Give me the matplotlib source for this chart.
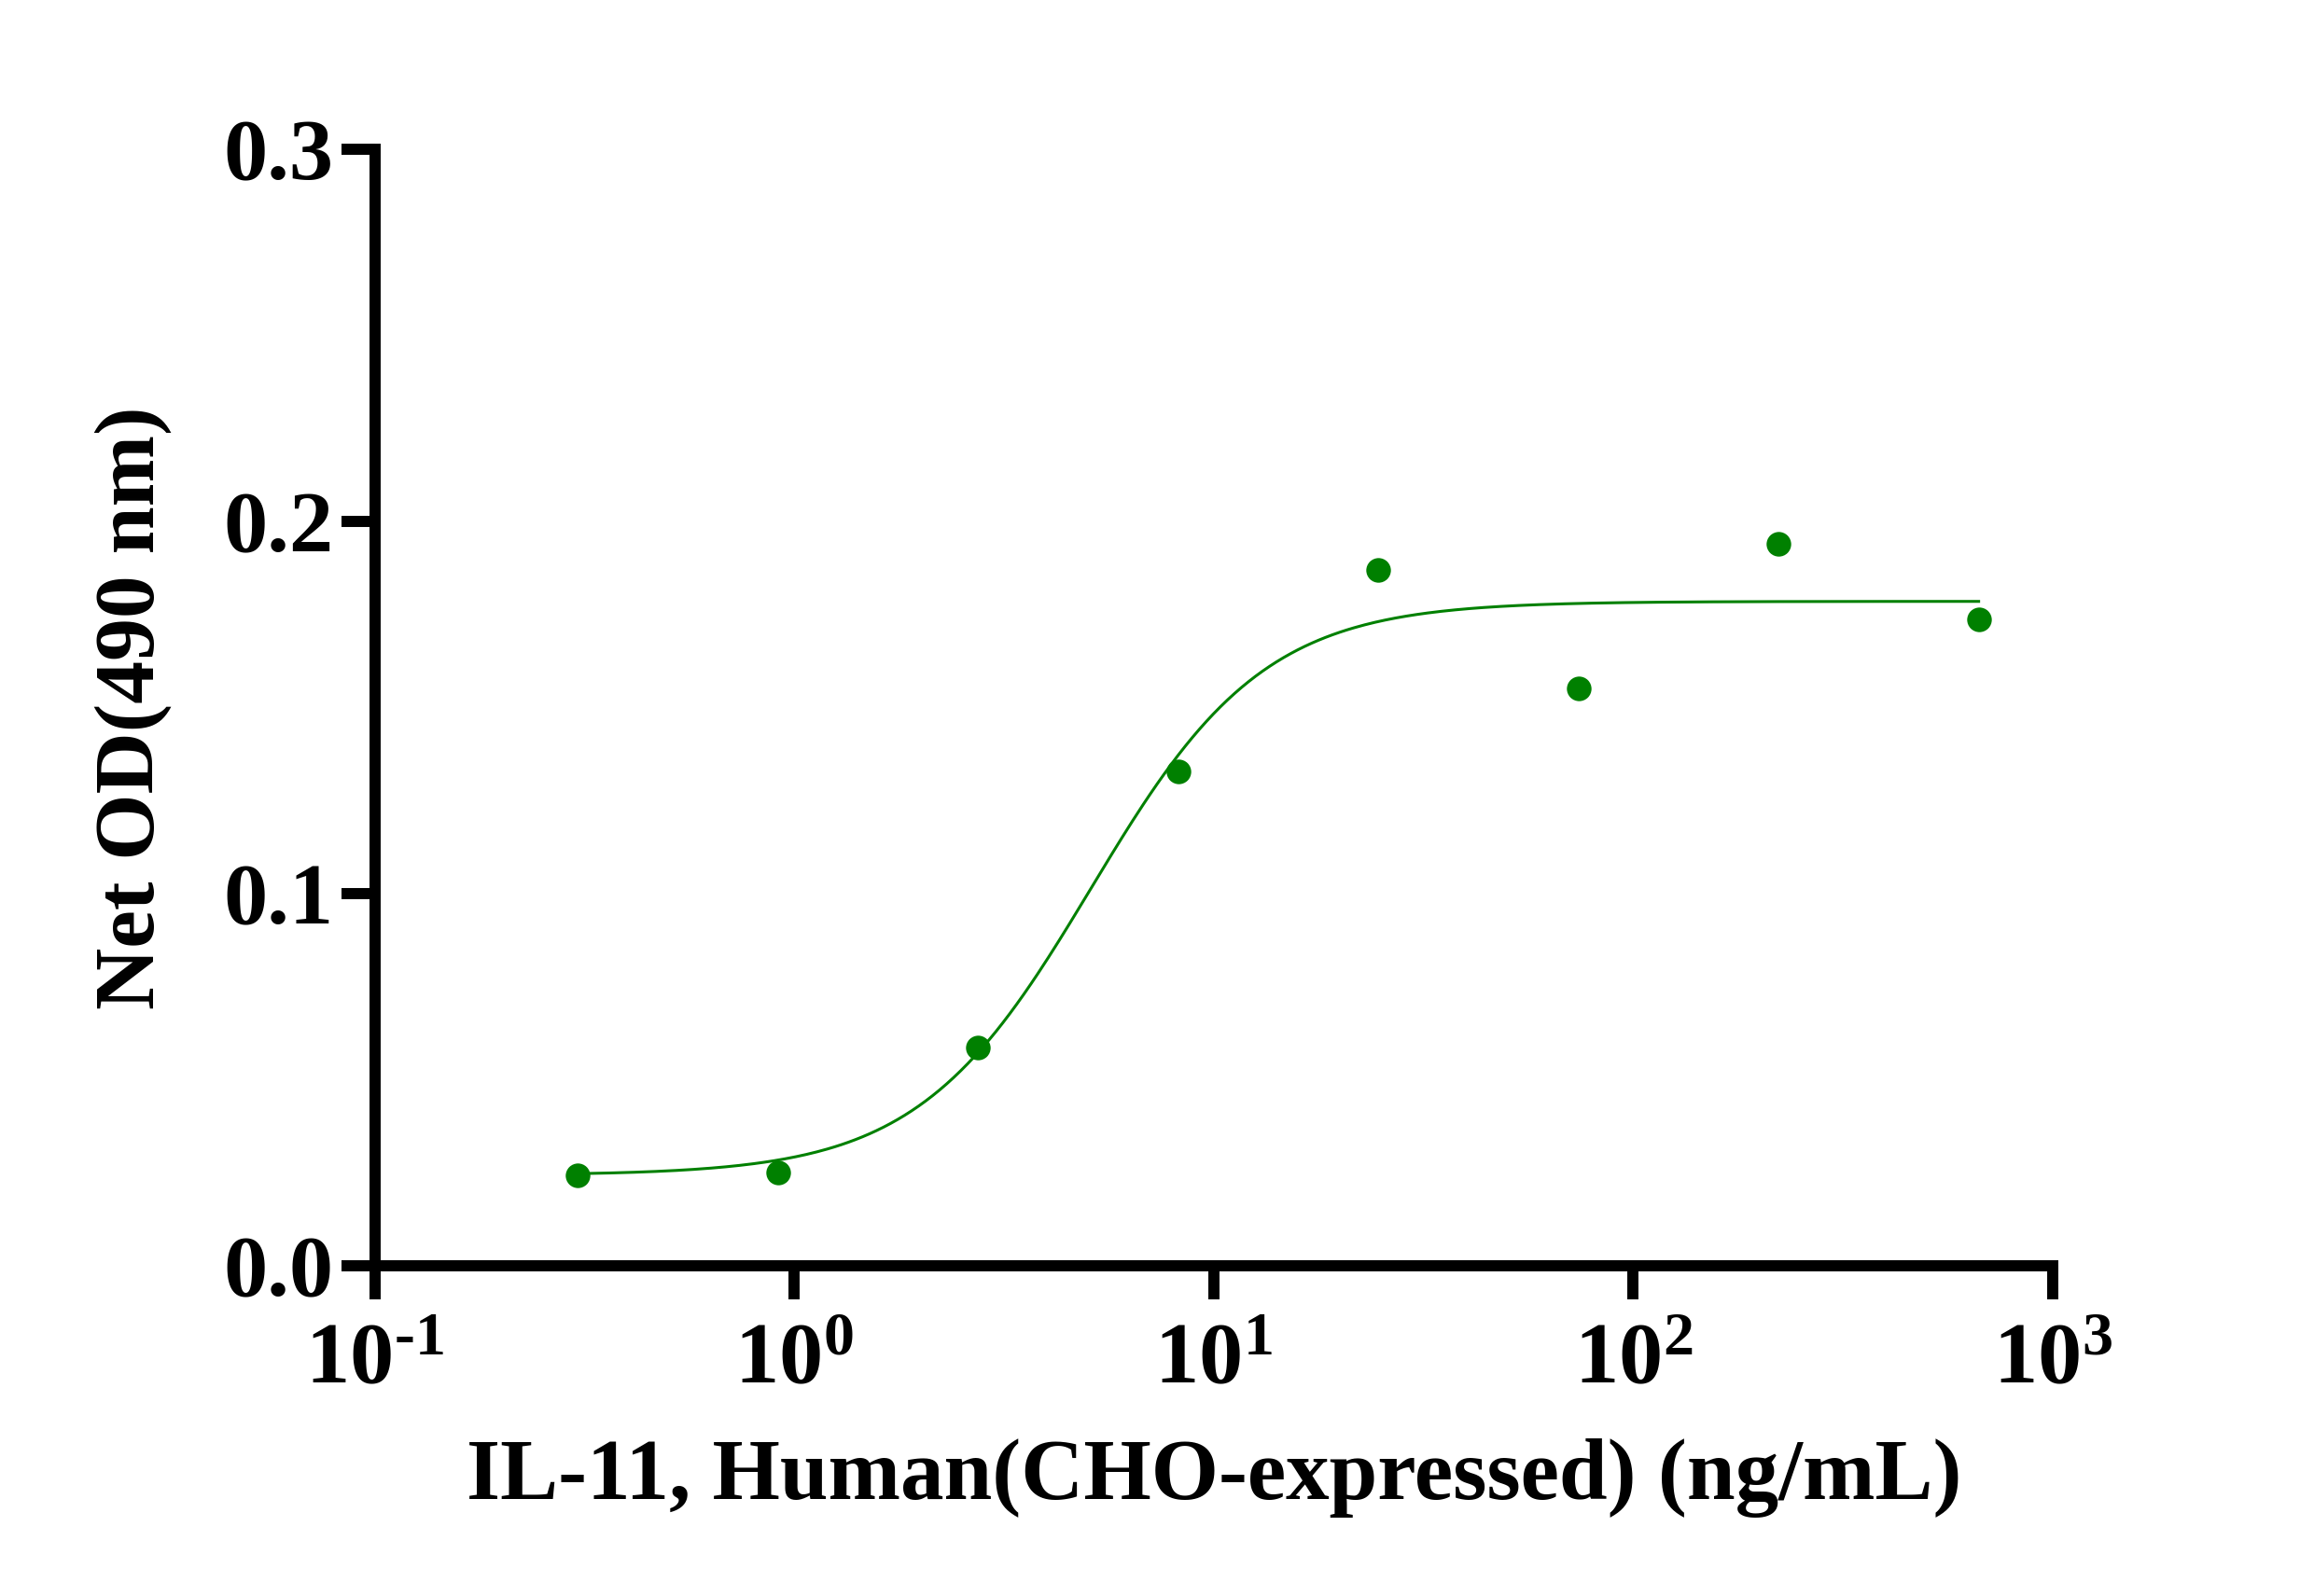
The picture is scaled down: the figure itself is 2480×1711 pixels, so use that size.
import numpy as np
import matplotlib
matplotlib.use("Agg")
import matplotlib.pyplot as plt

plt.rcParams['font.family'] = ['Liberation Serif', 'DejaVu Serif']
plt.rcParams['font.weight'] = 'bold'
plt.rcParams['mathtext.fontset'] = 'custom'
plt.rcParams['mathtext.rm'] = 'Liberation Serif:bold'
plt.rcParams['mathtext.bf'] = 'Liberation Serif:bold'
plt.rcParams['mathtext.it'] = 'Liberation Serif:bold'

# Measured points (3-fold dilution series)
conc = [0.305, 0.914, 2.74, 8.23, 24.7, 74.1, 222.2, 666.7]
od = [0.0242, 0.0250, 0.0587, 0.1328, 0.1870, 0.1550, 0.1940, 0.1736]

# 4PL fit parameters
bottom = 0.0243
top = 0.1785
ec50 = 5.1
hill = 2.1

xTicks = [0.1, 1, 10, 100, 1000]
xTickLabels = [r'$10^{\text{-}1}$', r'$10^{0}$', r'$10^{1}$', r'$10^{2}$', r'$10^{3}$']
yTicks = [0.0, 0.1, 0.2, 0.3]
yTickLabels = ['0.0', '0.1', '0.2', '0.3']

green = '#008000'


def main():
    fig = plt.figure(figsize=(24.8, 17.11), dpi=100)
    ax = fig.add_axes([0.162, 0.207, 0.725, 0.6995])

    # Fitted curve
    xs = np.logspace(np.log10(conc[0]), np.log10(conc[-1]), 400)
    ys = bottom + (top - bottom) / (1 + (ec50 / xs) ** hill)
    ax.plot(xs, ys, '-', color=green, lw=2.2)

    # Data points
    ax.plot(conc, od, 'o', color=green, markersize=19, markeredgewidth=0)

    # Cosmetics
    ax.set_xscale('log')
    ax.set_xlim(0.1, 1000)
    ax.set_ylim(0, 0.3)
    ax.set_xticks(xTicks)
    ax.set_xticklabels(xTickLabels)
    ax.xaxis.set_minor_locator(matplotlib.ticker.NullLocator())
    ax.set_yticks(yTicks)
    ax.set_yticklabels(yTickLabels)

    for side in ['top', 'right']:
        ax.spines[side].set_visible(False)
    for side in ['left', 'bottom']:
        ax.spines[side].set_linewidth(8.6)
        ax.spines[side].set_capstyle('projecting')

    ax.tick_params(axis='both', width=8.6, length=26, labelsize=68, color='black')
    ax.tick_params(axis='x', pad=18)
    ax.tick_params(axis='y', pad=6)

    ax.set_xlabel('IL-11, Human(CHO-expressed) (ng/mL)', fontsize=67,
                  fontweight='bold', labelpad=28)
    ax.set_ylabel('Net OD(490 nm)', fontsize=66, fontweight='bold',
                  labelpad=40)

    fig.savefig('out.png', dpi=100)


if __name__ == '__main__':
    main()
